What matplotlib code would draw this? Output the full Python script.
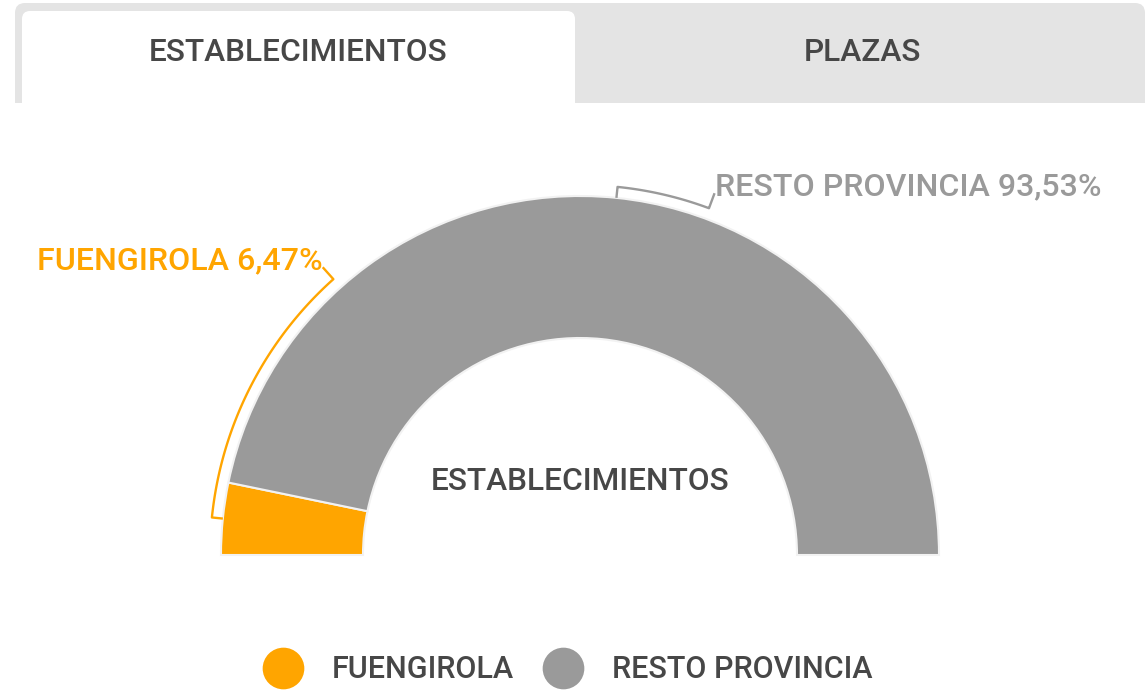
import numpy as np
import matplotlib
matplotlib.use("Agg")
import matplotlib.pyplot as plt
from matplotlib.patches import FancyBboxPatch, Rectangle
from matplotlib.lines import Line2D

plt.rcParams['font.family'] = ['Roboto', 'DejaVu Sans']
plt.rcParams['font.weight'] = 'medium'

# data
labels = ['FUENGIROLA', 'RESTO PROVINCIA']
values = [6.47, 93.53]
value_text = ['6,47%', '93,53%']
colors = ['#FFA500', '#9A9A9A']
tabs = ['ESTABLECIMIENTOS', 'PLAZAS']
center_title = 'ESTABLECIMIENTOS'

# layout (pixels, top-left origin)
W, H = 1148, 691
cx, cy = 580, 555
r_out, r_in = 359, 217
r_br, r_tip = 370, 386
label_angles = [131.8, 69.6]
dark = '#474747'

def Y(py):
    return H - py

fig = plt.figure(figsize=(W / 100, H / 100), dpi=100)
ax = fig.add_axes([0, 0, 1, 1])

# tabs
ax.add_patch(FancyBboxPatch((15, Y(130)), 1130, 127, boxstyle='round,pad=0,rounding_size=10',
                            fc='#E4E4E4', ec='none', zorder=1))
ax.add_patch(FancyBboxPatch((22, Y(130)), 553, 119, boxstyle='round,pad=0,rounding_size=8',
                            fc='white', ec='none', zorder=2))
ax.add_patch(Rectangle((0, Y(140)), W, 37, fc='white', ec='none', zorder=3))
ax.text(298, Y(52), tabs[0], ha='center', va='center', fontsize=22.8, color=dark, zorder=4)
ax.text(862, Y(52), tabs[1], ha='center', va='center', fontsize=22.8, color=dark, zorder=4)

# half donut
wedges, _ = ax.pie(values + [sum(values)], colors=colors + ['none'], startangle=180,
                   counterclock=False, radius=r_out, center=(cx, Y(cy)),
                   wedgeprops=dict(width=r_out - r_in, edgecolor='#F2F2F2', linewidth=1.5))
wedges[-1].set_visible(False)

# label brackets
cum = 0
for i, v in enumerate(values):
    mid = 180 - (cum + v / 2) / sum(values) * 180
    cum += v
    th = np.radians(np.linspace(mid, label_angles[i], 80))
    xs = [cx + r_out * np.cos(th[0])] + list(cx + r_br * np.cos(th)) + [cx + r_tip * np.cos(th[-1])]
    ys = [Y(cy) + r_out * np.sin(th[0])] + list(Y(cy) + r_br * np.sin(th)) + [Y(cy) + r_tip * np.sin(th[-1])]
    ax.plot(xs, ys, color=colors[i], lw=1.7, solid_capstyle='butt')
    ha = 'right' if np.cos(th[-1]) < 0 else 'left'
    ax.text(xs[-1], ys[-1] - 2, f'{labels[i]} {value_text[i]}', ha=ha, va='baseline',
            fontsize=23.1, color=colors[i])

ax.text(cx, Y(481), center_title, ha='center', va='center', fontsize=22.8, color=dark)

# legend
handles = [Line2D([], [], ls='none', marker='o', markersize=30, markerfacecolor=c,
                  markeredgecolor='none') for c in colors]
ax.legend(handles, labels, loc='center', bbox_to_anchor=(567, Y(670)),
          bbox_transform=ax.transData, ncol=2, frameon=False, fontsize=22,
          handlelength=1.4, handletextpad=0.9, columnspacing=0.9, borderpad=0,
          labelcolor=dark)

ax.set_xlim(0, W)
ax.set_ylim(0, H)
ax.set_aspect('auto')
ax.axis('off')

fig.savefig('out.png', dpi=100)
